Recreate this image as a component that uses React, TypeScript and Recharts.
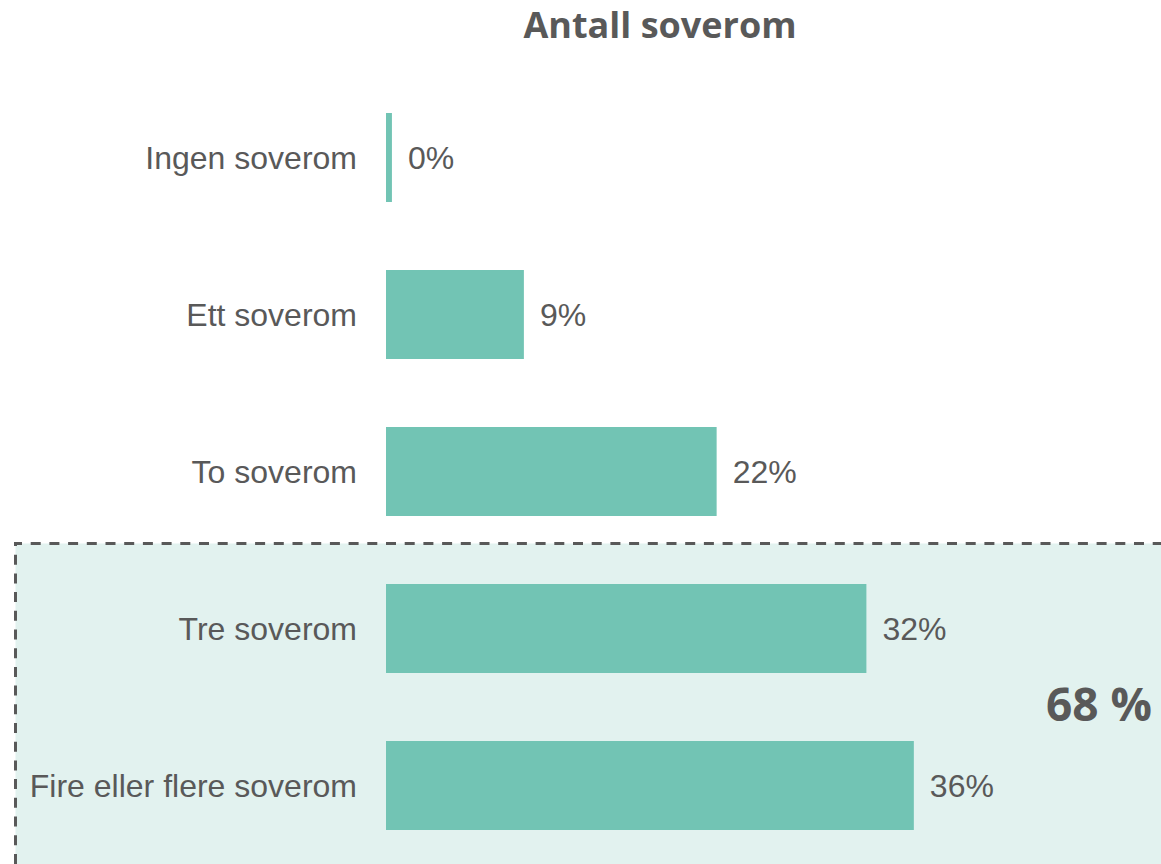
import React from 'react';
import { BarChart, Bar, XAxis, YAxis, LabelList } from 'recharts';

const CATEGORIES = [
  'Ingen soverom',
  'Ett soverom',
  'To soverom',
  'Tre soverom',
  'Fire eller flere soverom',
];
const SHARES = [0.4, 9.3, 22.3, 32.4, 35.6];
const TITLE = 'Antall soverom';
const HIGHLIGHT_LABEL = '68 %';

const BAR_COLOR = '#72c4b4';
const TEXT_COLOR = '#595959';
const BOX_FILL = '#e2f2ef';

const data = CATEGORIES.map((name, i) => ({ name, value: SHARES[i] }));

export default function App() {
  return (
    <div
      style={{
        position: 'absolute',
        top: 0,
        left: 0,
        width: 1161,
        height: 864,
        background: '#fff',
        overflow: 'hidden',
      }}
    >
      {/* highlighted group box behind the chart */}
      <svg width={1161} height={864} style={{ position: 'absolute', top: 0, left: 0 }}>
        <rect x={15.5} y={543.5} width={1160} height={340} fill={BOX_FILL} />
        <line
          x1={14}
          y1={543.5}
          x2={1161}
          y2={543.5}
          stroke={TEXT_COLOR}
          strokeWidth={3}
          strokeDasharray="10 8.7"
          strokeDashoffset={2}
        />
        <line
          x1={15.5}
          y1={542}
          x2={15.5}
          y2={864}
          stroke={TEXT_COLOR}
          strokeWidth={3}
          strokeDasharray="10 8.7"
          strokeDashoffset={6}
        />
        <text
          x={660}
          y={38}
          textAnchor="middle"
          fontFamily="'Open Sans', sans-serif"
          fontWeight={700}
          fontSize={36}
          fill={TEXT_COLOR}
        >
          {TITLE}
        </text>
        <text
          x={1152}
          y={721}
          textAnchor="end"
          fontFamily="'Open Sans', sans-serif"
          fontWeight={700}
          fontSize={46}
          fill={TEXT_COLOR}
        >
          {HIGHLIGHT_LABEL}
        </text>
      </svg>
      <div style={{ position: 'absolute', top: 0, left: 0 }}>
        <BarChart
          width={1161}
          height={864}
          data={data}
          layout="vertical"
          margin={{ top: 79, right: 4, bottom: 0, left: 0 }}
        >
          <XAxis type="number" domain={[0, 52]} hide />
          <YAxis
            type="category"
            dataKey="name"
            width={386}
            axisLine={false}
            tickLine={false}
            tickSize={0}
            tickMargin={29}
            tick={{
              fill: TEXT_COLOR,
              fontSize: 32,
              fontFamily: "'Liberation Sans', Arial, sans-serif",
            }}
          />
          <Bar dataKey="value" fill={BAR_COLOR} barSize={89} isAnimationActive={false}>
            <LabelList
              dataKey="value"
              position="right"
              offset={16}
              formatter={(v: number) => `${Math.round(v)}%`}
              style={{
                fill: TEXT_COLOR,
                fontSize: 32,
                fontFamily: "'Liberation Sans', Arial, sans-serif",
              }}
            />
          </Bar>
        </BarChart>
      </div>
    </div>
  );
}
